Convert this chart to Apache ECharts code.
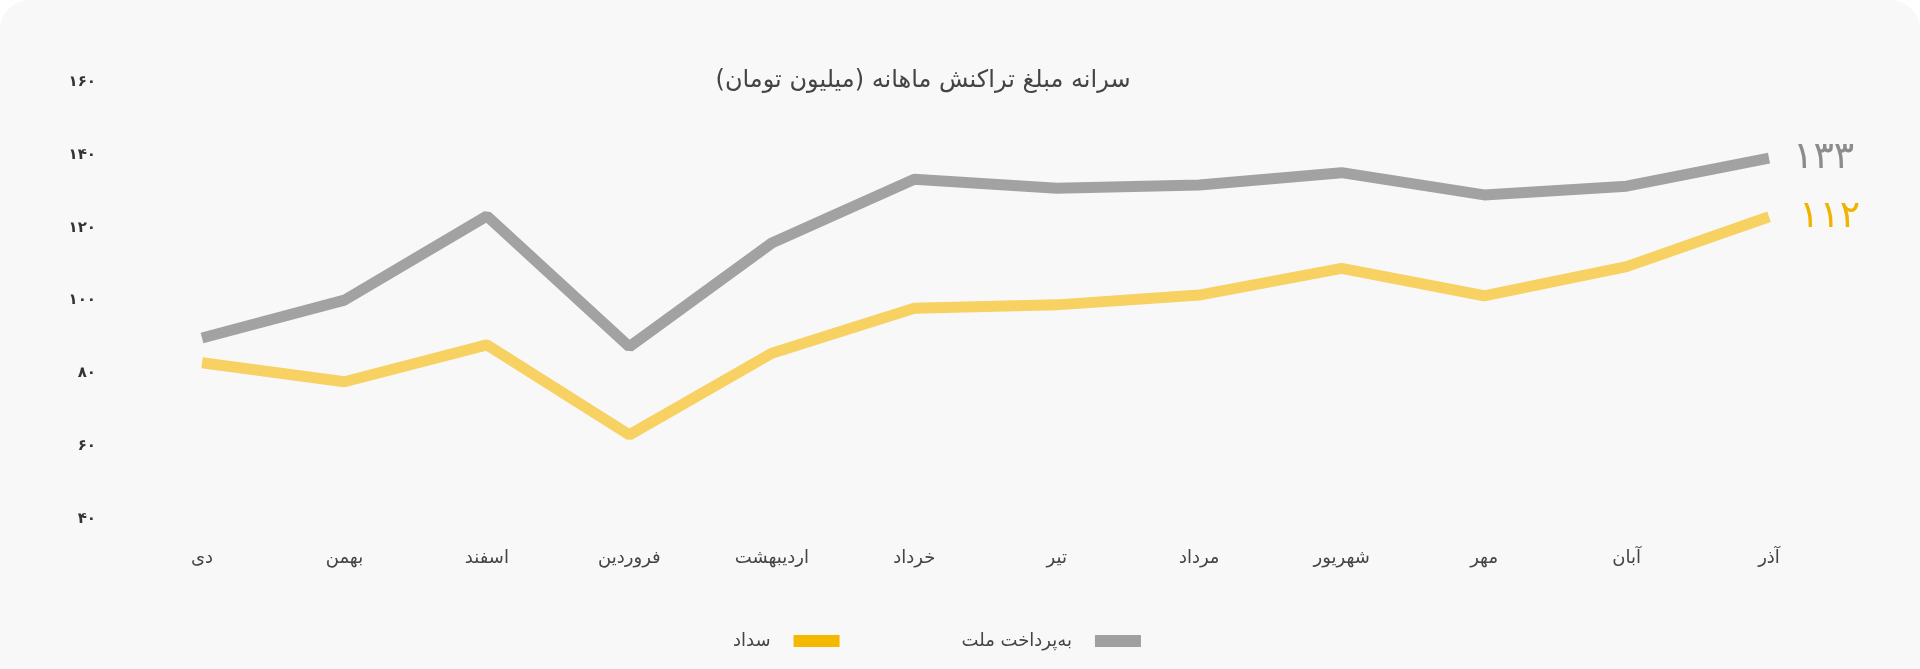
<!DOCTYPE html>
<html>
<head>
<meta charset="utf-8">
<script src="https://cdn.jsdelivr.net/npm/echarts@6/dist/echarts.min.js"></script>
<style>
    html, body { margin: 0; padding: 0; background: #ffffff; }
    #card { width: 1920px; height: 669px; background: #f8f8f8; border-radius: 30px 30px 0 0; }
    #chart { width: 1920px; height: 669px; }
</style>
</head>
<body>
<div id="card"><div id="chart"></div></div>
<script>
// ماه‌ها
var months = ['دی', 'بهمن', 'اسفند', 'فروردین', 'اردیبهشت', 'خرداد', 'تیر', 'مرداد', 'شهریور', 'مهر', 'آبان', 'آذر'];
// به‌پرداخت ملت
var mellat = [89.7, 100.1, 123.2, 87.3, 115.8, 133.3, 130.8, 131.7, 135.1, 129, 131.4, 139.1];
// سداد
var sadad = [82.9, 77.7, 87.8, 63.1, 85.5, 97.9, 98.8, 101.5, 108.8, 101.3, 109.3, 123];
// عدد پایان خط
var endValues = [133, 112];
var seriesNames = ['به\u200cپرداخت ملت', 'سداد'];

var faDigits = '۰۱۲۳۴۵۶۷۸۹';
function toFa(n) {
    return String(n).replace(/[0-9]/g, function (d) { return faDigits[d]; });
}

var font = 'DejaVu Sans';
var myChart = echarts.init(document.getElementById('chart'));
var option = {
    backgroundColor: 'transparent',
    title: {
        text: 'سرانه مبلغ تراکنش ماهانه (میلیون تومان)',
        left: 918,
        textAlign: 'center',
        top: 64,
        textStyle: { fontFamily: font, fontSize: 24, fontWeight: 'normal', color: '#444' }
    },
    legend: {
        data: [seriesNames[1], seriesNames[0]],
        left: 728,
        top: 627,
        align: 'right',
        icon: 'rect',
        itemWidth: 46,
        itemHeight: 12,
        itemGap: 122,
        textStyle: { fontFamily: font, fontSize: 18, color: '#444', padding: [0, 18, 0, 0] }
    },
    grid: { left: 202, right: 151, top: 82, bottom: 150 },
    xAxis: {
        type: 'category',
        data: months,
        boundaryGap: false,
        axisLine: { show: false },
        axisTick: { show: false },
        axisLabel: { margin: 30, fontFamily: font, fontSize: 18, color: '#444' }
    },
    yAxis: {
        type: 'value',
        min: 40,
        max: 160,
        interval: 20,
        splitLine: { show: false },
        axisLine: { show: false },
        axisTick: { show: false },
        axisLabel: {
            margin: 106,
            fontFamily: font,
            fontSize: 15,
            fontWeight: 'bold',
            color: '#333',
            formatter: function (v) { return toFa(v); }
        }
    },
    series: [{
            name: seriesNames[0],
            type: 'line',
            data: mellat,
            showSymbol: false,
            itemStyle: { color: '#a0a0a0' },
            lineStyle: { color: '#a2a2a2', width: 11 },
            endLabel: {
                show: true,
                distance: 24,
                fontFamily: font,
                fontSize: 38,
                color: '#8c8c8c',
                formatter: function () { return toFa(endValues[0]); }
            }
        },
        {
            name: seriesNames[1],
            type: 'line',
            data: sadad,
            showSymbol: false,
            itemStyle: { color: '#f5b800' },
            lineStyle: { color: '#f7d162', width: 11 },
            endLabel: {
                show: true,
                distance: 30,
                fontFamily: font,
                fontSize: 38,
                color: '#f0b400',
                formatter: function () { return toFa(endValues[1]); }
            }
        }
    ]
};
myChart.setOption(option);
</script>
</body>
</html>
